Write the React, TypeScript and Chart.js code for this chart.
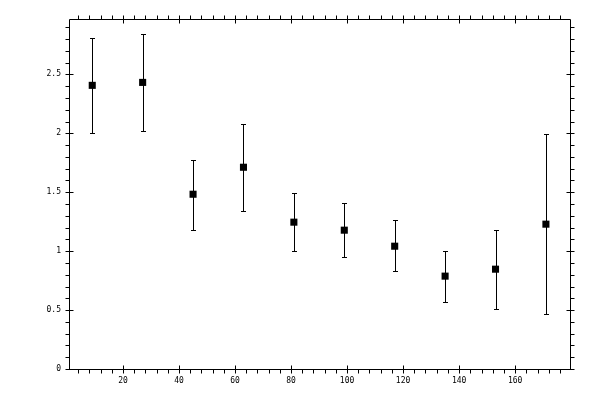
import React, { useEffect, useRef } from "react";
import { Chart, registerables } from "chart.js";

Chart.register(...registerables);

const xValues = [9, 27, 45, 63, 81, 99, 117, 135, 153, 171];
const yValues = [2.407, 2.432, 1.483, 1.712, 1.246, 1.178, 1.042, 0.788, 0.847, 1.229];
const yLow = [2.0, 2.017, 1.178, 1.339, 1.0, 0.949, 0.831, 0.568, 0.508, 0.466];
const yHigh = [2.81, 2.839, 1.776, 2.076, 1.492, 1.407, 1.263, 1.0, 1.178, 1.997];

const xTickLabels = [20, 40, 60, 80, 100, 120, 140, 160];
const yTickLabels = [0, 0.5, 1, 1.5, 2, 2.5];

const X_MIN = 0.7;
const X_MAX = 179.6;
const Y_MIN = 0;
const Y_MAX = 2.97;

const errorBarPlugin = {
  id: "errorBars",
  beforeDatasetsDraw(chart: any) {
    const ctx = chart.ctx;
    const xs = chart.scales.x;
    const ys = chart.scales.y;
    ctx.save();
    ctx.strokeStyle = "#000";
    ctx.lineWidth = 1;
    for (let i = 0; i < xValues.length; i++) {
      const px = Math.round(xs.getPixelForValue(xValues[i])) + 0.5;
      const pLo = Math.round(ys.getPixelForValue(yLow[i])) + 0.5;
      const pHi = Math.round(ys.getPixelForValue(yHigh[i])) + 0.5;
      ctx.beginPath();
      ctx.moveTo(px, pLo);
      ctx.lineTo(px, pHi);
      ctx.moveTo(px - 2.5, pLo);
      ctx.lineTo(px + 2.5, pLo);
      ctx.moveTo(px - 2.5, pHi);
      ctx.lineTo(px + 2.5, pHi);
      ctx.stroke();
    }
    ctx.restore();
  },
};

const framePlugin = {
  id: "frameTicks",
  afterDraw(chart: any) {
    const ctx = chart.ctx;
    const xs = chart.scales.x;
    const ys = chart.scales.y;
    const { left, right, top, bottom } = chart.chartArea;
    const L = Math.round(left) + 0.5;
    const R = Math.round(right) + 0.5;
    const T = Math.round(top) + 0.5;
    const B = Math.round(bottom) + 0.5;
    ctx.save();
    ctx.strokeStyle = "#000";
    ctx.lineWidth = 1;
    ctx.beginPath();
    ctx.rect(L, T, R - L, B - T);
    // x ticks
    for (let v = 4; v < X_MAX; v += 4) {
      if (v < X_MIN) continue;
      const px = Math.round(xs.getPixelForValue(v)) + 0.5;
      const major = v % 20 === 0;
      ctx.moveTo(px, B + 4);
      ctx.lineTo(px, major ? B - 4 : B);
      ctx.moveTo(px, T - 4);
      ctx.lineTo(px, major ? T + 4 : T);
    }
    // y ticks
    for (let k = 0; k <= 29; k++) {
      const v = k / 10;
      if (v > Y_MAX) break;
      const py = Math.round(ys.getPixelForValue(v)) + 0.5;
      const major = k % 5 === 0;
      ctx.moveTo(L - 4, py);
      ctx.lineTo(major ? L + 4 : L, py);
      ctx.moveTo(R + 4, py);
      ctx.lineTo(major ? R - 4 : R, py);
    }
    ctx.stroke();
    ctx.restore();
  },
};

export default function App() {
  const canvasRef = useRef<HTMLCanvasElement | null>(null);

  useEffect(() => {
    if (!canvasRef.current) return;
    const tickFont = { family: "'DejaVu Sans Mono', monospace", size: 8 };
    const chart = new Chart(canvasRef.current, {
      type: "scatter",
      data: {
        datasets: [
          {
            data: xValues.map((x, i) => ({ x, y: yValues[i] })),
            pointStyle: "rect",
            pointRadius: 5,
            pointHoverRadius: 5,
            backgroundColor: "#000",
            borderColor: "#000",
            borderWidth: 0,
          },
        ],
      },
      options: {
        animation: false,
        responsive: false,
        events: [],
        layout: { padding: { top: 19, right: 30, left: 0, bottom: 0 } },
        plugins: { legend: { display: false }, tooltip: { enabled: false } },
        scales: {
          x: {
            type: "linear",
            min: X_MIN,
            max: X_MAX,
            grid: { display: false, drawTicks: false },
            border: { display: false },
            afterBuildTicks: (scale: any) => {
              scale.ticks = xTickLabels.map((v) => ({ value: v }));
            },
            afterFit: (scale: any) => {
              scale.height = 31;
            },
            ticks: {
              color: "#000",
              font: tickFont,
              padding: 7,
              maxRotation: 0,
              autoSkip: false,
              callback: (v: any) => String(v),
            },
          },
          y: {
            type: "linear",
            min: Y_MIN,
            max: Y_MAX,
            grid: { display: false, drawTicks: false },
            border: { display: false },
            afterBuildTicks: (scale: any) => {
              scale.ticks = yTickLabels.map((v) => ({ value: v }));
            },
            afterFit: (scale: any) => {
              scale.width = 69;
            },
            ticks: {
              color: "#000",
              font: tickFont,
              padding: 8,
              autoSkip: false,
              callback: (v: any) => String(v),
            },
          },
        },
      },
      plugins: [errorBarPlugin, framePlugin],
    });
    return () => chart.destroy();
  }, []);

  return (
    <div style={{ position: "absolute", left: 0, top: 0, width: 600, height: 400, background: "#fff" }}>
      <canvas ref={canvasRef} width={600} height={400} style={{ width: 600, height: 400 }} />
    </div>
  );
}
